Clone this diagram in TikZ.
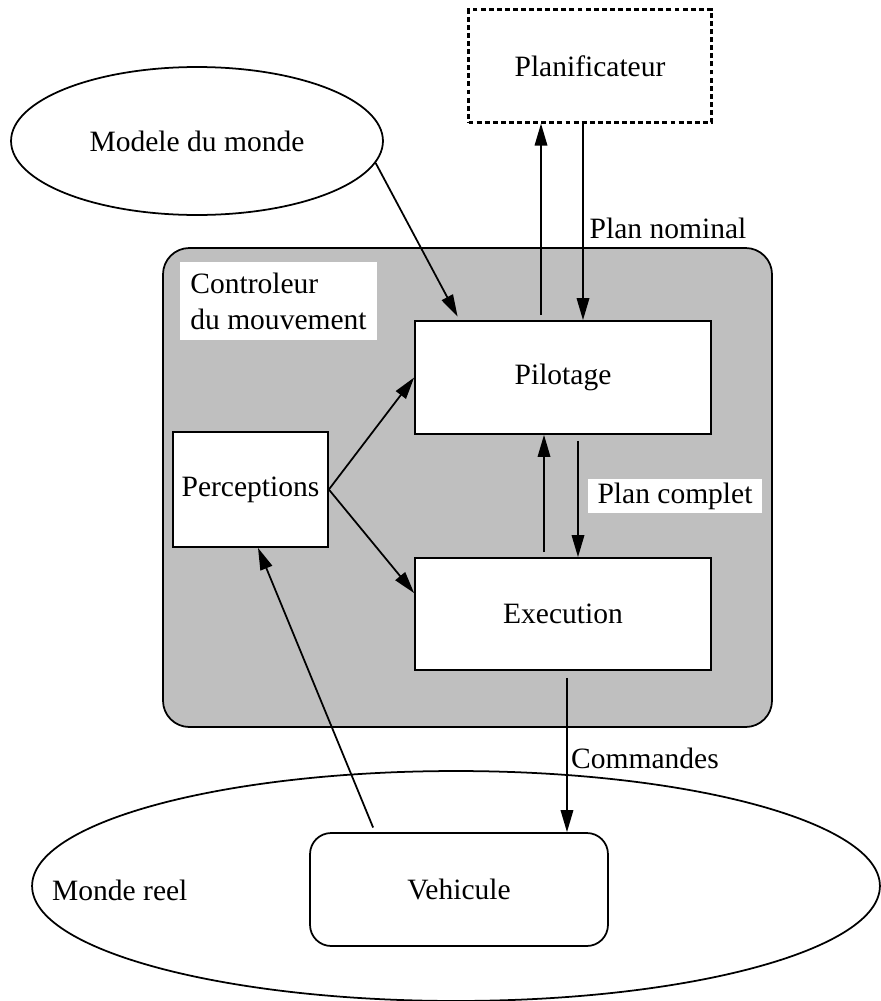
\documentclass[tikz,border=0pt]{standalone}
\usepackage{fontspec}
\setmainfont{Liberation Serif}
\usetikzlibrary{arrows.meta,positioning,shapes.geometric}
\definecolor{CtrlGray}{HTML}{BFBFBF}
\tikzset{
  txt/.style={font=\fontsize{16.8}{20.5}\selectfont},
  box/.style={draw,fill=white,line width=1pt,txt,inner sep=0pt},
  arr/.style={-{Triangle[length=0.44cm,width=0.25cm]},line width=1pt},
}
\begin{document}
\begin{tikzpicture}[x=0.02cm,y=-0.02cm]
  \useasboundingbox (0,0) rectangle (880,1001);

  % --- outer world ---
  \draw[line width=1pt] (456,886) ellipse (8.48cm and 2.3cm);
  \node[txt,anchor=west] (reel) at (46,890) {Monde reel};

  % --- motion controller ---
  \draw[fill=CtrlGray,line width=1pt,rounded corners=15pt] (163,248) rectangle (772,727);
  \node[txt,fill=white,align=left,minimum width=3.94cm,minimum height=1.56cm,inner sep=0pt]
    (ctrl) at (278.5,301) {Controleur\\du mouvement};

  % --- blocks ---
  \node[box,line width=1.2pt,dash pattern=on 2.8pt off 1.8pt,minimum width=4.86cm,minimum height=2.26cm]
    (plan) at (590,66) {Planificateur};
  \node[box,ellipse,minimum width=7.44cm,minimum height=2.96cm]
    (mdm) at (197,141) {Modele du monde};
  \node[box,minimum width=5.92cm,minimum height=2.26cm] (pilot) at (563,377.5) {Pilotage};
  \node[box,minimum width=5.92cm,minimum height=2.24cm] (exec) at (563,614) {Execution};
  \node[box,minimum width=3.1cm,minimum height=2.3cm] (perc) at (250.5,489.5) {Perceptions};
  \node[box,rounded corners=12pt,minimum width=5.96cm,minimum height=2.26cm]
    (veh) at (459,889.5) {Vehicule};

  % --- labels ---
  \node[txt] (nominal) at (668,228) {Plan nominal};
  \node[txt,fill=white,minimum width=3.48cm,minimum height=0.68cm,inner sep=0pt]
    (complet) at (675,496) {Plan complet};
  \node[txt] (cmd) at (645,758) {Commandes};

  % --- connectors ---
  \draw[arr,shorten >=0.08cm] (mdm.-7) -- (pilot.151.7);
  \draw[arr,shorten <=0.1cm] ([xshift=-0.44cm]pilot.north) -- ([xshift=-0.44cm]pilot.north |- plan.south);
  \draw[arr] ([xshift=0.4cm]pilot.north |- plan.south) -- ([xshift=0.4cm]pilot.north);
  \draw[arr] (perc.east) -- (pilot.west);
  \draw[arr] (perc.east) -- (exec.172);
  \draw[arr,shorten <=0.1cm] ([xshift=-0.38cm]exec.north) -- ([xshift=-0.38cm]exec.north |- pilot.south);
  \draw[arr,shorten <=0.12cm] ([xshift=0.3cm]exec.north |- pilot.south) -- ([xshift=0.3cm]exec.north);
  \draw[arr,shorten <=0.14cm] ([xshift=2.16cm]veh.north |- exec.south) -- ([xshift=2.16cm]veh.north);
  \draw[arr,shorten <=0.1cm] ([xshift=-1.68cm]veh.north) -- ([xshift=0.15cm]perc.south);
\end{tikzpicture}
\end{document}
